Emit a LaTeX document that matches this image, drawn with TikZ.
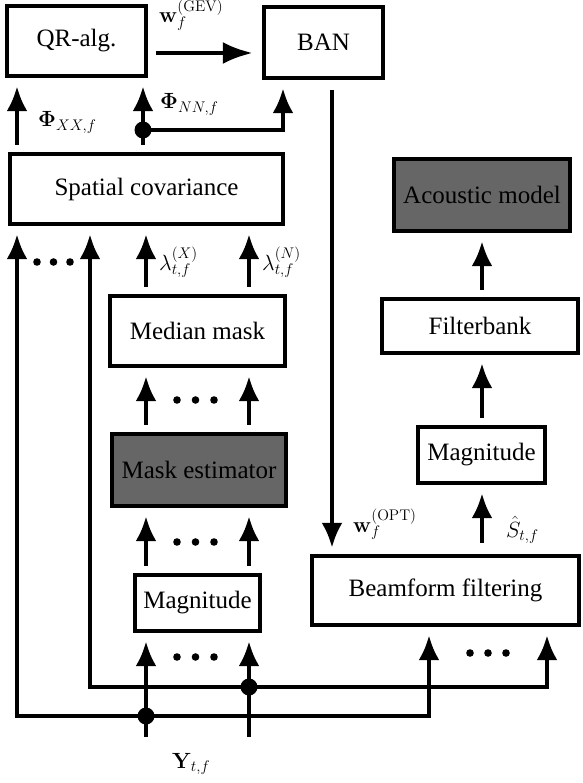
\documentclass[tikz,border=0pt]{standalone}
\usepackage{fix-cm}
\usepackage[no-math]{fontspec}
\setmainfont{Liberation Serif}
\usetikzlibrary{arrows.meta,calc}
\definecolor{gray66}{RGB}{102,102,102}
\begin{document}
\begin{tikzpicture}[x=1pt,y=-1pt,
  box/.style={draw,line width=4.4pt,inner sep=0pt,align=center,font=\fontsize{25}{30}\selectfont\rmfamily},
  ln/.style={line width=4.2pt},
  arr/.style={ln,-{Latex[length=25pt,width=21pt]},shorten <=7pt,shorten >=8pt},
  farr/.style={ln,-{Latex[length=25pt,width=21pt]},shorten >=8pt},
  lbl/.style={inner sep=0pt,anchor=base west,font=\fontsize{22}{26}\selectfont},
  jdot/.style={fill=black},
]
\useasboundingbox (0,0) rectangle (582,783);
% boxes
\node[box,minimum width=139pt,minimum height=70pt] (qr) at (76.5,41) {QR-alg.};
\node[box,minimum width=119pt,minimum height=71pt] (ban) at (323.5,42.5) {BAN};
\node[box,minimum width=273pt,minimum height=70pt] (sc) at (146.5,189) {Spatial covariance};
\node[box,fill=gray66,minimum width=176pt,minimum height=72pt] (am) at (482,195) {Acoustic model};
\node[box,minimum width=196pt,minimum height=54pt] (fb) at (480,326) {Filterbank};
\node[box,minimum width=127pt,minimum height=56pt] (magr) at (481.5,455) {Magnitude};
\node[box,minimum width=175pt,minimum height=70pt] (mm) at (197.5,331) {Median mask};
\node[box,fill=gray66,minimum width=174pt,minimum height=72pt] (me) at (199,470) {Mask estimator};
\node[box,minimum width=125pt,minimum height=56pt] (magl) at (197.5,603) {Magnitude};
\node[box,minimum width=267pt,minimum height=69pt] (bf) at (445.5,590.5) {Beamform filtering};
% columns
\coordinate (cA) at (17,0);
\coordinate (cB) at (90,0);
\coordinate (cM) at (143,0);
\coordinate (cC) at (146,0);
\coordinate (cD) at (249,0);
\coordinate (cBAN) at (283,0);
\coordinate (cW) at (332,0);
\coordinate (cE) at (429,0);
\coordinate (cR) at (482,0);
\coordinate (cF) at (547,0);
\coordinate (j1) at (146,716);
\coordinate (j2) at (249,687);
\coordinate (j3) at (143,130);
\coordinate (inC) at (146,737);
\coordinate (inD) at (249,737);
% top
\draw[ln,-{Latex[length=30pt,width=22pt]},shorten <=8pt,shorten >=9pt] ([yshift=-12pt]qr.east) -- ([yshift=-12pt]qr.east -| ban.west);
\node[lbl] (lgev) at (159,23) {$\mathbf{w}_f^{(\mathrm{GEV})}$};
\draw[arr] (sc.north -| cA) -- (qr.south -| cA);
\node[lbl] (lxx) at (38,127) {$\mathbf{\Phi}_{XX,f}$};
\draw[arr] (sc.north -| cM) -- (qr.south -| cM);
\draw[farr] (j3) -| (ban.south -| cBAN);
\fill[jdot] (j3) circle (8.5pt);
\node[lbl] (lnn) at (160,109) {$\mathbf{\Phi}_{NN,f}$};
\draw[arr,shorten <=10pt,shorten >=6pt] (ban.south -| cW) -- (bf.north -| cW);
\node[lbl] (lopt) at (353,532) {$\mathbf{w}_f^{(\mathrm{OPT})}$};
% right column
\draw[arr] (fb.north -| cR) -- (am.south -| cR);
\draw[arr] (magr.north -| cR) -- (fb.south -| cR);
\draw[arr,shorten <=11pt] (bf.north -| cR) -- (magr.south -| cR);
\node[lbl] (ls) at (506,537) {$\hat{S}_{t,f}$};
% middle column
\draw[arr] (mm.north -| cC) -- (sc.south -| cC);
\draw[arr] (mm.north -| cD) -- (sc.south -| cD);
\node[lbl] (llx) at (159,270) {$\lambda_{t,f}^{(X)}$};
\node[lbl] (lln) at (262,270) {$\lambda_{t,f}^{(N)}$};
\draw[arr] (me.north -| cC) -- (mm.south -| cC);
\draw[arr] (me.north -| cD) -- (mm.south -| cD);
\draw[arr] (magl.north -| cC) -- (me.south -| cC);
\draw[arr] (magl.north -| cD) -- (me.south -| cD);
\draw[farr] (inC) -- (magl.south -| cC);
\draw[farr] (inD) -- (magl.south -| cD);
% feeds
\draw[farr] (j1) -| (sc.south -| cA);
\draw[farr] (j1) -| (bf.south -| cE);
\draw[farr] (j2) -| (sc.south -| cB);
\draw[farr] (j2) -| (bf.south -| cF);
\fill[jdot] (j1) circle (8.5pt);
\fill[jdot] (j2) circle (8.5pt);
\node[lbl] (ly) at (172,768) {$\mathbf{Y}_{t,f}$};
% ellipsis dots
\foreach \x/\y in {37/262,53.5/262,70/262,
                   177/400,195.5/400,214/400,
                   177/542,195.5/542,214/542,
                   177/657,195.5/657,214/657,
                   470/653,488/653,506/653}
  \fill (\x,\y) circle (3.8pt);
\end{tikzpicture}
\end{document}
